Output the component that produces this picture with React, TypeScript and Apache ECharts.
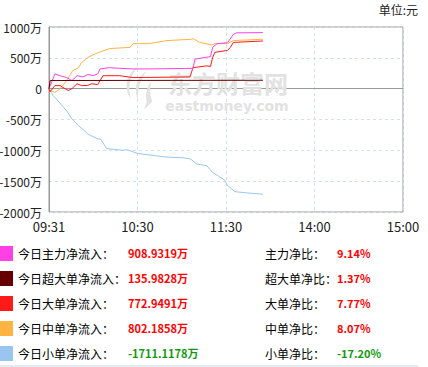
import React, { useEffect, useRef } from "react";
import * as echarts from "echarts";

// minutes since 09:30 trading open, value in 万元
const mainFlow: [number, number][] = [
  [0, 0], [4, 240], [7.5, 210], [12, 180], [15.6, 130], [19, 210], [23, 190], [26.5, 230], [30, 210],
  [33, 240], [34.6, 320], [41, 340], [48, 330], [57, 320], [68, 320], [97.6, 330], [99, 480],
  [107, 510], [109.5, 520], [111, 670], [114, 730], [121, 745], [125, 880], [127, 905], [145, 909],
];
const superFlow: [number, number][] = [[0, 0], [0.8, 132], [145, 136]];
const largeFlow: [number, number][] = [
  [0, 0], [0.7, -50], [4, 50], [7.5, 50], [9.5, 20], [13, -30], [15.6, 0], [19, 80], [22, 50],
  [26, 50], [29, 80], [33, 65], [36.6, 210], [48, 210], [57, 180], [95.6, 190], [97.6, 340],
  [107, 370], [109.5, 360], [111, 510], [112.5, 590], [121, 620], [123, 670], [125, 750], [145, 773],
];
const mediumFlow: [number, number][] = [
  [0, 0], [0.7, -30], [4, -60], [7.5, 0], [11, 100], [14, 210], [16, 290], [20, 340], [22, 420],
  [26, 500], [29, 540], [33, 580], [41, 650], [55, 670], [57, 730], [68, 730], [80, 780], [96, 800],
  [98, 810], [102, 750], [110.5, 710], [112.5, 730], [121, 730], [125, 780], [145, 802],
];
const smallFlow: [number, number][] = [
  [0, 0], [2.7, -110], [6, -195], [12, -360], [15.6, -490], [20, -600], [24, -680], [26, -730],
  [32.5, -810], [35, -820], [39, -970], [50, -1000], [53, -990], [60, -1050], [73, -1090], [80, -1110],
  [91, -1120], [96, -1140], [100, -1220], [107, -1250], [111, -1360], [119, -1480], [121, -1570],
  [126, -1670], [134, -1690], [145, -1711],
];

const xTickLabels = ["09:31", "10:30", "11:30", "14:00", "15:00"];

const flowLabels = ["今日主力净流入：", "今日超大单净流入：", "今日大单净流入：", "今日中单净流入：", "今日小单净流入："];
const flowValues = ["908.9319万", "135.9828万", "772.9491万", "802.1858万", "-1711.1178万"];
const ratioLabels = ["主力净比：", "超大单净比：", "大单净比：", "中单净比：", "小单净比："];
const ratioValues = ["9.14%", "1.37%", "7.77%", "8.07%", "-17.20%"];

const colors = ["#ff40e6", "#660000", "#ff1a1a", "#ffb442", "#99c6f0"];

const logoPath =
  "M16 0 C4 8 0 22 8 34 C5 22 7 11 16 0 Z M25 5 C13 13 11 25 16 36 C15 25 18 15 25 5 Z M30 16 C25 22 23 30 25 38 L22 46 L31 37 C28 31 28 23 30 16 Z";
echarts.graphic.registerShape("emlogo", echarts.graphic.extendPath(logoPath, {}) as any);

export default function App() {
  const ref = useRef<HTMLDivElement>(null);
  useEffect(() => {
    if (!ref.current) return;
    const chart = echarts.init(ref.current, undefined, { renderer: "svg" });
    const cjk = '"Noto Sans CJK SC", sans-serif';
    const rowY = [253, 278, 303, 328, 353];
    const graphic: any[] = [
      {
        type: "emlogo", x: 123, y: 66, scaleX: 0.95, scaleY: 0.95, z: 1,
        style: { fill: "#e2e2e2" }, silent: true,
      },
      {
        type: "text", x: 228, y: 82, z: 1, silent: true,
        style: { text: "东方财富网", font: 'bold 24px ' + cjk, fill: "#e2e2e2", textAlign: "center", textVerticalAlign: "middle" },
      },
      {
        type: "text", x: 227, y: 106, z: 1, silent: true,
        style: { text: "eastmoney.com", font: 'bold 14px "DejaVu Sans", sans-serif', fill: "#e2e2e2", textAlign: "center", textVerticalAlign: "middle" },
      },
      {
        type: "text", x: 418, y: 9,
        style: { text: "单位:元", font: "12px " + cjk, fill: "#222", textAlign: "right", textVerticalAlign: "middle" },
      },
      {
        type: "line", shape: { x1: 0, y1: 366, x2: 418, y2: 366 },
        style: { stroke: "#c6d6e6", lineWidth: 1 },
      },
    ];
    flowLabels.forEach((lab, i) => {
      const y = rowY[i];
      const neg = flowValues[i].startsWith("-");
      graphic.push(
        { type: "rect", shape: { x: 0, y: y - 7, width: 13, height: 15 }, style: { fill: colors[i] } },
        { type: "text", x: 18, y, style: { text: lab, font: "12px " + cjk, fill: "#000", textVerticalAlign: "middle" } },
        {
          type: "text", x: 128, y,
          style: { text: flowValues[i], font: "bold 11px " + cjk, fill: neg ? "#119911" : "#ff0000", textVerticalAlign: "middle" },
        },
        { type: "text", x: 265, y, style: { text: ratioLabels[i], font: "12px " + cjk, fill: "#000", textVerticalAlign: "middle" } },
        {
          type: "text", x: 337, y,
          style: {
            text: ratioValues[i], font: "bold 11px " + cjk,
            fill: ratioValues[i].startsWith("-") ? "#119911" : "#ff0000", textVerticalAlign: "middle",
          },
        }
      );
    });

    const mk = (name: string, data: [number, number][], color: string) => ({
      name, type: "line", data, showSymbol: false, symbol: "none",
      lineStyle: { width: 1, color }, itemStyle: { color }, z: 3,
    });

    chart.setOption({
      animation: false,
      grid: {
        left: 49, top: 27, width: 354, height: 185, show: true, borderColor: "#999", borderWidth: 1,
        outerBoundsMode: "none",
      },
      xAxis: {
        type: "value", min: 0, max: 240, interval: 60,
        axisLine: { show: true, lineStyle: { color: "#999" } },
        axisTick: { show: false },
        axisLabel: {
          formatter: (v: number) => xTickLabels[Math.round(v / 60)] ?? "",
          color: "#222", fontSize: 13, fontFamily: cjk, margin: 8,
        },
        splitLine: { show: true, lineStyle: { color: "#cfe2f3", type: [3, 3] } },
      },
      yAxis: {
        type: "value", min: -2000, max: 1000, interval: 500,
        axisLine: { show: true, lineStyle: { color: "#999" } },
        axisTick: { show: false },
        axisLabel: {
          formatter: (v: number) => (v === 0 ? "0" : v + "万"),
          color: "#222", fontSize: 12, fontFamily: cjk, margin: 7,
        },
        splitLine: { show: true, lineStyle: { color: "#cfe2f3", type: [3, 3] } },
      },
      graphic,
      series: [
        mk("小单", smallFlow, colors[4]),
        mk("中单", mediumFlow, colors[3]),
        mk("大单", largeFlow, colors[2]),
        mk("主力", mainFlow, colors[0]),
        mk("超大单", superFlow, colors[1]),
      ],
    });
    return () => chart.dispose();
  }, []);
  return <div ref={ref} style={{ position: "absolute", left: 0, top: 0, width: 428, height: 367 }} />;
}
